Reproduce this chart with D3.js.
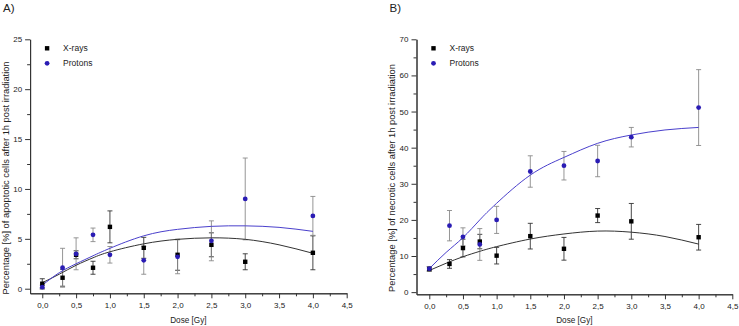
<!DOCTYPE html>
<html>
<head>
<meta charset="utf-8">
<script src="https://cdn.jsdelivr.net/npm/d3@7"></script>
<style>
  body { margin: 0; background: #fff; }
  svg { display: block; font-family: 'Liberation Sans', Arial, sans-serif; }
  .axis path, .axis line { stroke: #333; }
  .axis text { fill: #222; font-size: 8px; font-family: 'Liberation Sans', Arial, sans-serif; }
</style>
</head>
<body>
<svg id="chart" width="739" height="326"></svg>
<script>

// measured doses
var doses = [0, 0.3, 0.5, 0.75, 1, 1.5, 2, 2.5, 3, 4];

// A) apoptotic cells
var apoXray       = [0.5, 1.1, 3.4, 2.1, 6.2, 4.1, 3.4, 4.4, 2.7, 3.6];
var apoXrayErr    = [0.5, 0.85, 0.4, 0.65, 1.6, 1.05, 1.55, 1.2, 0.8, 1.7];
var apoProton     = [0.15, 2.1, 3.5, 5.4, 3.4, 2.85, 3.2, 4.8, 9.0, 7.3];
var apoProtonErr  = [0.2, 1.95, 1.6, 0.68, 0.83, 1.4, 1.7, 2.0, 4.1, 1.95];

// B) necrotic cells
var necXray       = [6.4, 7.8, 12.2, 14.0, 10.1, 15.5, 12.0, 21.2, 19.6, 15.2];
var necXrayErr    = [0.6, 1.2, 2.45, 2.0, 2.3, 3.55, 3.15, 1.95, 4.95, 3.55];
var necProton     = [6.5, 18.4, 15.3, 13.2, 20.0, 33.4, 35.0, 36.3, 42.9, 51.1];
var necProtonErr  = [0.6, 4.2, 2.5, 4.4, 3.75, 4.35, 3.95, 4.35, 2.7, 10.5];

// fit curves
var fitDoses      = [0, 0.25, 0.5, 0.75, 1, 1.5, 2, 2.5, 3, 3.5, 4];
var apoXrayFit    = [0.6, 1.45, 2.35, 3.1, 3.7, 4.5, 4.95, 5.1, 4.95, 4.4, 3.55];
var apoProtonFit  = [0.35, 1.6, 2.5, 3.3, 4.05, 5.3, 5.95, 6.25, 6.3, 6.15, 5.75];
var necXrayFit    = [6.0, 8.0, 9.8, 11.3, 12.6, 14.7, 16.1, 16.9, 16.6, 15.4, 13.3];
var necProtonFit  = [6.5, 11.0, 15.1, 20.0, 24.6, 32.4, 37.3, 41.2, 43.5, 44.9, 45.6];

// ticks
var doseTicks = [0, 0.5, 1, 1.5, 2, 2.5, 3, 3.5, 4, 4.5];
var apoTicks  = [0, 5, 10, 15, 20, 25];
var necTicks  = [0, 10, 20, 30, 40, 50, 60, 70];

var seriesNames = ['X-rays', 'Protons'];

var comma = d3.formatLocale({decimal: ',', thousands: '.', grouping: [3], currency: ['', '']}).format('.1f');

class DoseResponsePanel
{
  constructor(id, label, y_title, x_domain, x_range, y_domain, y_range, y_ticks, y_minor)
  {
    this.id = id;
    this.svg = d3.select('#chart').append('g').attr('id', id);

    this.x = d3.scaleLinear().domain(x_domain).range(x_range);
    this.y = d3.scaleLinear().domain(y_domain).range(y_range);

    this.left = x_range[0];
    this.bottom = y_range[0];

    this.svg.append('text')
        .attr('x', this.left - 27)
        .attr('y', 11.7)
        .attr('font-size', 11.5)
        .attr('fill', '#222')
        .text(label);

    this.make_axes(y_ticks, y_minor);

    this.svg.append('text')
        .attr('transform', 'translate(' + (this.left - 21.5) + ',178) rotate(-90)')
        .attr('text-anchor', 'middle')
        .attr('font-size', 9.3)
        .attr('fill', '#222')
        .text(y_title);

    this.svg.append('text')
        .attr('x', (x_range[0] + x_range[1]) / 2)
        .attr('y', 323)
        .attr('text-anchor', 'middle')
        .attr('font-size', 8.2)
        .attr('fill', '#222')
        .text('Dose [Gy]');
  }

  make_axes(y_ticks, y_minor)
  {
    var minor_x = doseTicks.slice(0, -1).map(t => t + 0.25);

    this.svg.append('g')
        .attr('class', 'axis')
        .attr('transform', 'translate(0,' + this.bottom + ')')
        .call(d3.axisBottom(this.x).tickValues(minor_x).tickSize(3).tickSizeOuter(0).tickFormat(''));

    this.svg.append('g')
        .attr('class', 'axis')
        .attr('transform', 'translate(0,' + this.bottom + ')')
        .call(d3.axisBottom(this.x).tickValues(doseTicks).tickSize(5).tickPadding(4.3).tickSizeOuter(0).tickFormat(comma));

    var minor_y = y_ticks.slice(0, -1).map(t => t + y_minor);

    this.svg.append('g')
        .attr('class', 'axis')
        .attr('transform', 'translate(' + this.left + ',0)')
        .call(d3.axisLeft(this.y).tickValues(minor_y).tickSize(3).tickSizeOuter(0).tickFormat(''));

    this.svg.append('g')
        .attr('class', 'axis')
        .attr('transform', 'translate(' + this.left + ',0)')
        .call(d3.axisLeft(this.y).tickValues(y_ticks).tickSize(5).tickPadding(3).tickSizeOuter(0).tickFormat(d3.format('d')));
  }

  draw_errors(values, errors, color)
  {
    var data = doses.map((d, i) => ({dose: d, lo: values[i] - errors[i], hi: values[i] + errors[i]}));
    var g = this.svg.append('g').attr('stroke', color).attr('stroke-width', 0.9);

    g.selectAll('.bar').data(data).enter().append('line')
        .attr('x1', d => this.x(d.dose)).attr('x2', d => this.x(d.dose))
        .attr('y1', d => this.y(d.lo)).attr('y2', d => this.y(d.hi));

    g.selectAll('.cap-hi').data(data).enter().append('line')
        .attr('x1', d => this.x(d.dose) - 2.5).attr('x2', d => this.x(d.dose) + 2.5)
        .attr('y1', d => this.y(d.hi)).attr('y2', d => this.y(d.hi));

    g.selectAll('.cap-lo').data(data).enter().append('line')
        .attr('x1', d => this.x(d.dose) - 2.5).attr('x2', d => this.x(d.dose) + 2.5)
        .attr('y1', d => this.y(d.lo)).attr('y2', d => this.y(d.lo));
  }

  draw_fit(fit, color)
  {
    var line = d3.line()
        .x((d, i) => this.x(fitDoses[i]))
        .y(d => this.y(d))
        .curve(d3.curveNatural);

    this.svg.append('path')
        .datum(fit)
        .attr('fill', 'none')
        .attr('stroke', color)
        .attr('stroke-width', 1)
        .attr('d', line);
  }

  draw_squares(values)
  {
    this.svg.selectAll('.sq').data(values).enter().append('rect')
        .attr('x', (d, i) => this.x(doses[i]) - 2.2)
        .attr('y', d => this.y(d) - 2.2)
        .attr('width', 4.4)
        .attr('height', 4.4)
        .attr('fill', '#000');
  }

  draw_circles(values)
  {
    this.svg.selectAll('.ci').data(values).enter().append('circle')
        .attr('cx', (d, i) => this.x(doses[i]))
        .attr('cy', d => this.y(d))
        .attr('r', 2.4)
        .attr('fill', '#2a1cb4');
  }

  draw_legend()
  {
    var lx = this.left + 17;

    this.svg.append('rect')
        .attr('x', lx - 2.2).attr('y', 48.3 - 2.2)
        .attr('width', 4.4).attr('height', 4.4)
        .attr('fill', '#000');

    this.svg.append('circle')
        .attr('cx', lx).attr('cy', 63.3).attr('r', 2.4)
        .attr('fill', '#2a1cb4');

    this.svg.selectAll('.leg').data(seriesNames).enter().append('text')
        .attr('x', lx + 16)
        .attr('y', (d, i) => 51.3 + i * 15)
        .attr('font-size', 8.5)
        .attr('fill', '#222')
        .text(d => d);
  }

  render(xray, xray_err, proton, proton_err, xray_fit, proton_fit)
  {
    this.draw_errors(xray, xray_err, '#333');
    this.draw_errors(proton, proton_err, '#8a8a8a');
    this.draw_fit(xray_fit, '#333');
    this.draw_fit(proton_fit, '#4a40cc');
    this.draw_squares(xray);
    this.draw_circles(proton);
    this.draw_legend();
  }
}

var panelA = new DoseResponsePanel('panel-a', 'A)',
    'Percentage [%] of apoptotic cells after 1h post irradiation',
    [-0.18, 4.5], [30.1, 346.7], [-0.46, 25], [293.3, 39.3], apoTicks, 2.5);
panelA.render(apoXray, apoXrayErr, apoProton, apoProtonErr, apoXrayFit, apoProtonFit);

var panelB = new DoseResponsePanel('panel-b', 'B)',
    'Percentage [%] of necrotic cells after 1h post irradiation',
    [-0.19, 4.5], [416.5, 732.3], [-0.6, 70], [294.3, 39.3], necTicks, 5);
panelB.render(necXray, necXrayErr, necProton, necProtonErr, necXrayFit, necProtonFit);

</script>
</body>
</html>
